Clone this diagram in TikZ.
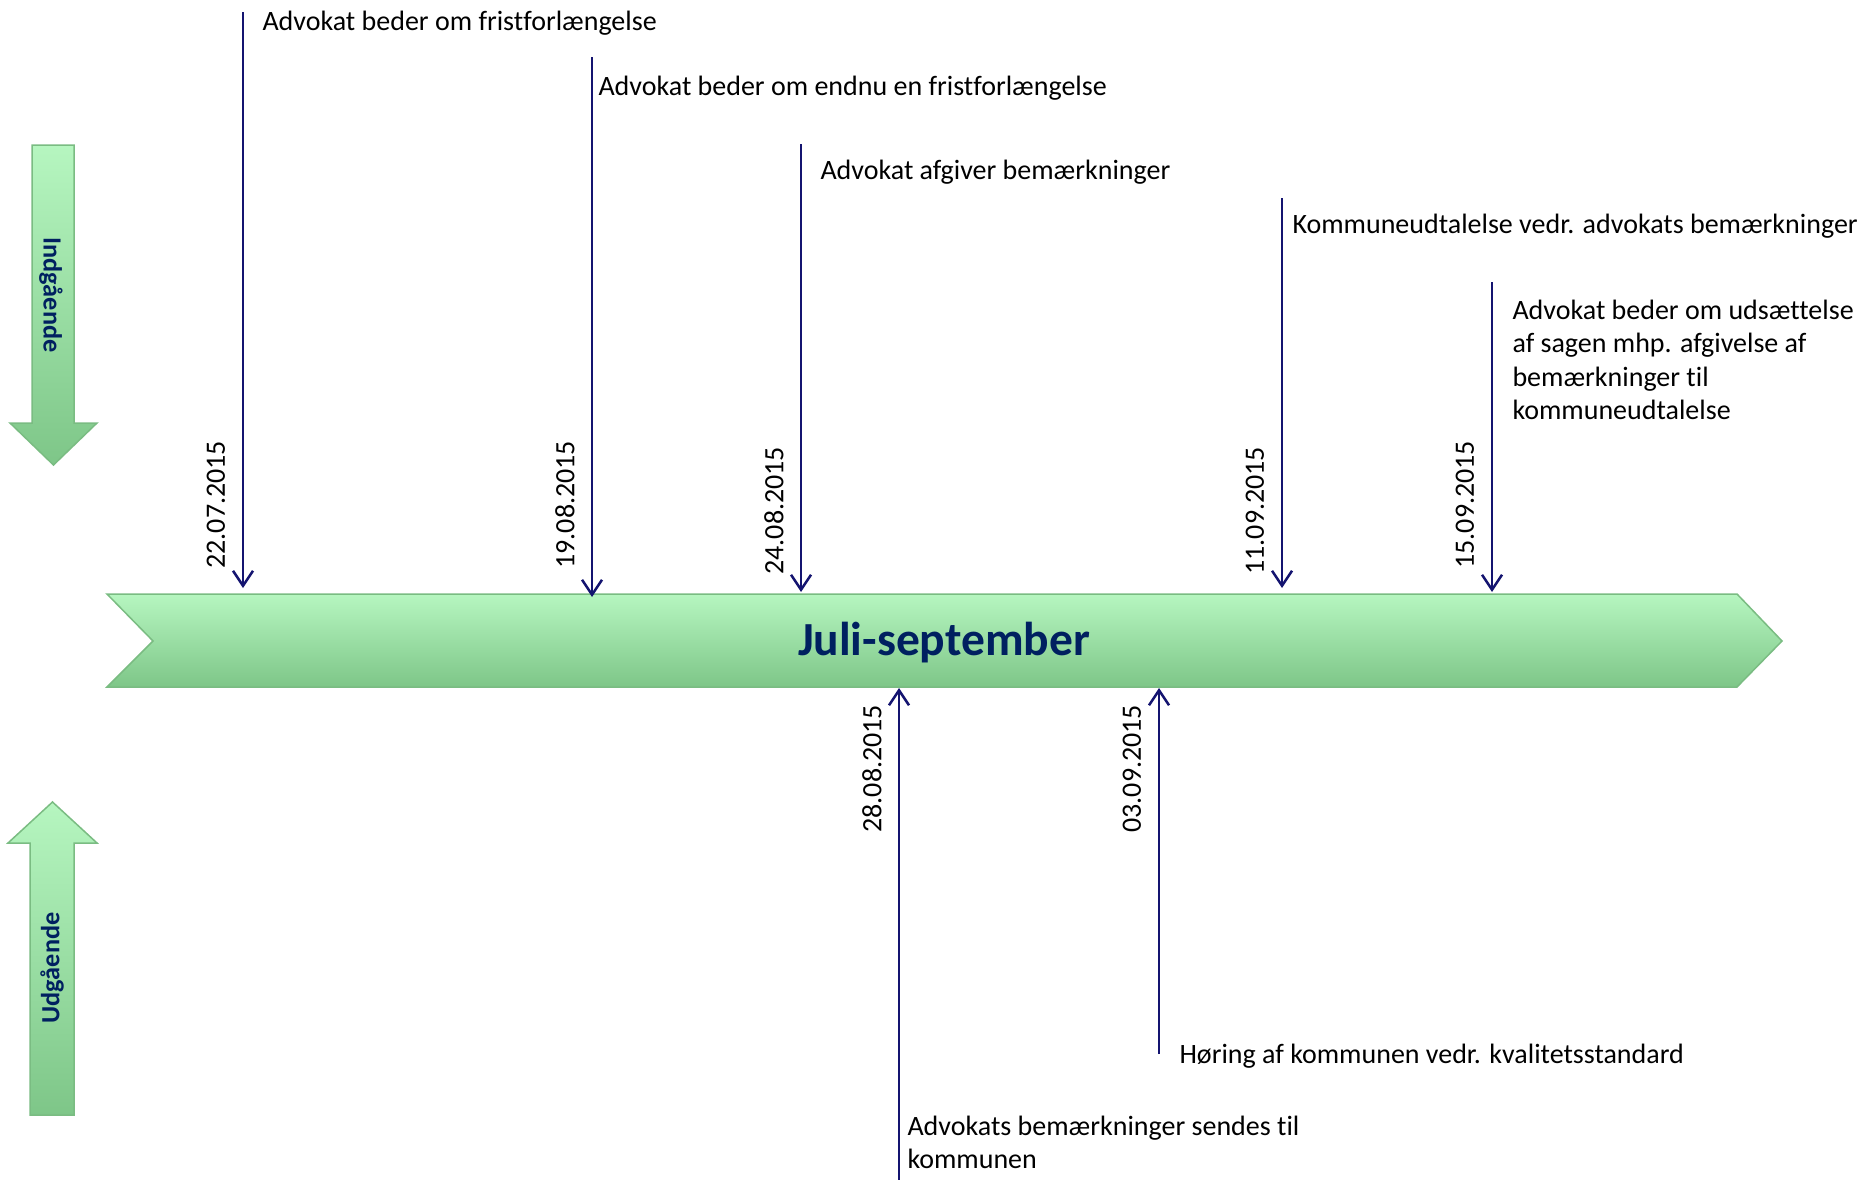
\documentclass[tikz,border=0pt]{standalone}
\usepackage{fontspec}
\setmainfont{Carlito}[Ligatures=CommonOff]
\usetikzlibrary{arrows.meta}

\definecolor{lineblue}{RGB}{20,20,112}
\definecolor{titleblue}{RGB}{0,32,96}
\definecolor{bandtop}{RGB}{182,246,192}
\definecolor{bandbot}{RGB}{126,198,136}
\definecolor{bandedge}{RGB}{122,188,130}

\tikzset{
  band/.style={draw=bandedge, line width=0.6pt, top color=bandtop, bottom color=bandbot},
  event/.style={lineblue, line width=1pt, -{Straight Barb[length=6pt,width=8pt]}},
  eventtext/.style={font=\fontsize{11.2}{13.3}\selectfont, anchor=west, align=left, inner sep=0pt},
  datetext/.style={font=\fontsize{11.2}{13.3}\selectfont, rotate=90, anchor=west, inner sep=0pt},
  sidetext/.style={font=\fontsize{10.5}{12}\selectfont\bfseries, text=titleblue},
}

\begin{document}
\begin{tikzpicture}[x=0.4pt, y=-0.4pt]
\useasboundingbox (0,0) rectangle (1867,1180);

			% Side arrows: incoming and outgoing
			\draw[band] (32,145) -- (74,145) -- (74,423) -- (97,423) -- (53.5,465) -- (10,423) -- (32,423) -- cycle;
			\node[sidetext, rotate=-90] (ind) at (51,295) {Indgående};
			\draw[band] (30,1115) -- (74,1115) -- (74,843) -- (97,843) -- (52.5,802) -- (8,843) -- (30,843) -- cycle;
			\node[sidetext, rotate=90] (udg) at (52,968) {Udgående};

			% The timeline band with its title
			\draw[band] (107,594) -- (1737,594) -- (1782,641) -- (1737,687) -- (107,687) -- (153,641) -- cycle;
			\node[font=\fontsize{19}{22}\selectfont\bfseries, text=titleblue] (title) at (944,643) {Juli-september};

			% Events: line from its free end to the band
			\foreach \name/\x/\yend/\ytip/\lx/\ly/\txt in {
					d1/243/12/588/262/23/{Advokat beder om fristforlængelse},
					d2/592/57/597/598/88/{Advokat beder om endnu en fristforlængelse},
					d3/801/144/592/820/172/{Advokat afgiver bemærkninger},
					d4/1282/198/588/1292/226/{Kommuneudtalelse vedr. advokats bemærkninger},
					d5/1492/282/592/1512/360/{Advokat beder om udsættelse\\af sagen mhp. afgivelse af\\bemærkninger til\\kommuneudtalelse},
					u1/899/1180/688/907/1142/{Advokats bemærkninger sendes til\\kommunen},
					u2/1159/1054/688/1179/1056/{Høring af kommunen vedr. kvalitetsstandard}
				} {
					\coordinate (\name-end) at (\x,\yend);
					\coordinate (\name-tip) at (\x,\ytip);
					\draw[event] (\name-end) -- (\name-tip);
					\node[eventtext] (\name-text) at (\lx,\ly) {\txt};
				}

			% Dates beside the lines
			\foreach \name/\x/\y/\when in {
					d1/216/569/22.07.2015,
					d2/565/569/19.08.2015,
					d3/774/575/24.08.2015,
					d4/1255/575/11.09.2015,
					d5/1465/569/15.09.2015,
					u1/872/833/28.08.2015,
					u2/1132/833/03.09.2015
				} {
					\node[datetext] (\name-date) at (\x,\y) {\when};
				}

\end{tikzpicture}
\end{document}
